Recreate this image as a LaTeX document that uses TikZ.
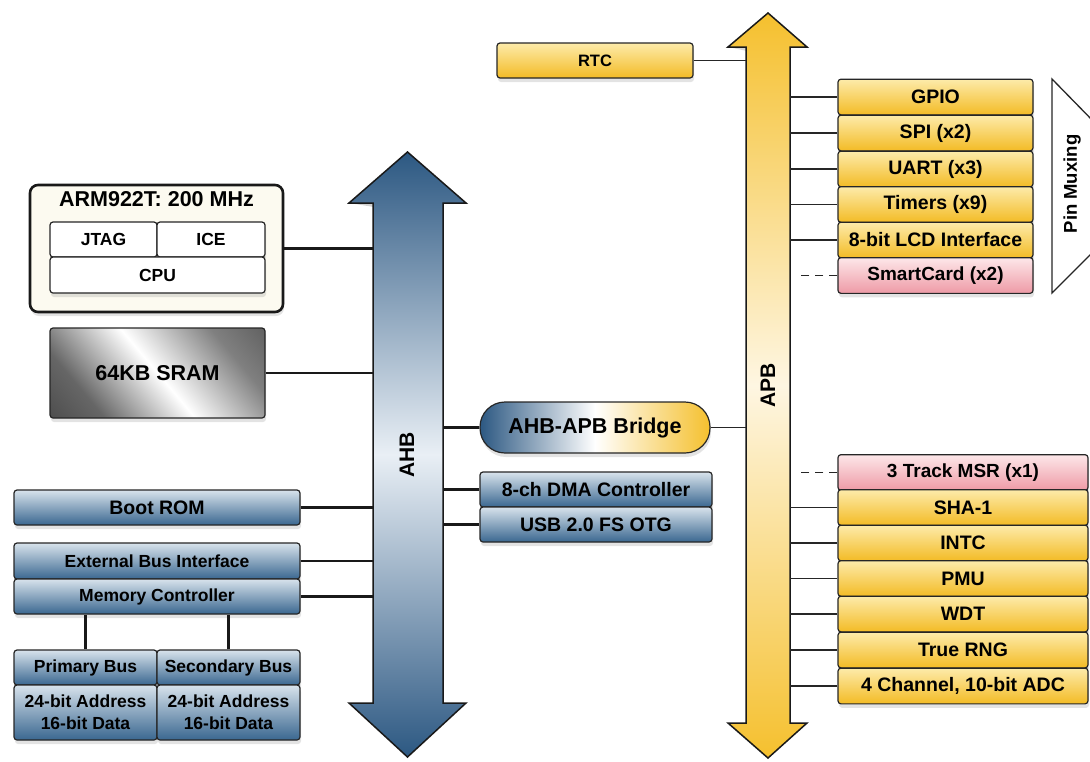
\documentclass[tikz,border=0pt]{standalone}
\usepackage{fontspec}
\setmainfont{Liberation Sans}
\usetikzlibrary{shadows}
\definecolor{bTop}{HTML}{D8E3EC}
\definecolor{bBot}{HTML}{3A6790}
\definecolor{yTop}{HTML}{FDEBAA}
\definecolor{yBot}{HTML}{F3BB25}
\definecolor{pTop}{HTML}{FDE7E9}
\definecolor{pBot}{HTML}{EE9AA6}
\definecolor{ahbDark}{HTML}{2C5882}
\definecolor{ahbLight}{HTML}{E9EFF5}
\definecolor{apbY}{HTML}{F5C02E}
\definecolor{apbLight}{HTML}{FEF6E2}
\definecolor{cream}{HTML}{FCFAF0}
\pgfdeclarehorizontalshading{sramsh}{100bp}{color(0bp)=(black!80); color(28bp)=(black!60); color(50bp)=(white); color(72bp)=(black!50); color(100bp)=(black!75)}
\newcommand\fsz[2]{\fontsize{#1}{#2}\selectfont\bfseries}
\tikzset{
  shad/.style={drop shadow={shadow xshift=1pt, shadow yshift=-4pt, opacity=0.22}},
  box/.style={draw=black!85, line width=1.2pt, rounded corners=3pt, inner sep=0pt, align=center, shad},
  bluebox/.style={box, top color=bTop, bottom color=bBot},
  lbl/.style={bluebox, minimum width=286pt, font=\fsz{17.5}{20}},
  ylw/.style={box, top color=yTop, bottom color=yBot, minimum width=195pt, minimum height=35.7pt, font=\fsz{19.5}{22}},
  pnk/.style={box, top color=pTop, bottom color=pBot, minimum width=195pt, minimum height=35.7pt, font=\fsz{19}{22}},
  wide/.style={minimum width=250pt},
  wbox/.style={box, fill=white, font=\fsz{17.5}{20}},
  wire/.style={line width=2.2pt, draw=black!90},
  twire/.style={line width=1.3pt, draw=black!85},
  dwire/.style={line width=1.3pt, draw=black!85, dash pattern=on 8pt off 6pt},
  busline/.style={draw=black!90, line width=1.5pt, line join=miter},
}
\begin{document}
\begin{tikzpicture}[x=1pt,y=-1pt]
\useasboundingbox (0,0) rectangle (1090,761);

% ---------- AHB bus ----------
\fill[black, opacity=0.18] ([xshift=1pt,yshift=-4pt]373,203) -- (349,203) -- (407.5,152) -- (466,203) -- (443,203) -- (443,703) -- (466,703) -- (407.5,757) -- (349,703) -- (373,703) -- cycle;
\shade[busline, top color=ahbDark, bottom color=ahbDark, middle color=ahbLight]
  (373,203) -- (349,203) -- (407.5,152) -- (466,203) -- (443,203) -- (443,703) -- (466,703) -- (407.5,757) -- (349,703) -- (373,703) -- cycle;
\node[inner sep=0pt, minimum width=70pt, minimum height=500pt] (ahb) at (408,453) {};
\node[rotate=90, font=\fsz{21}{24}] (ahbt) at (407,455) {AHB};

% ---------- APB bus ----------
\fill[black, opacity=0.15] ([xshift=1pt,yshift=-4pt]746,47) -- (728,47) -- (768,13) -- (807,47) -- (790,47) -- (790,723) -- (807,723) -- (768,758) -- (728,723) -- (746,723) -- cycle;
\shade[busline, top color=apbY, bottom color=apbY, middle color=apbLight]
  (746,47) -- (728,47) -- (768,13) -- (807,47) -- (790,47) -- (790,723) -- (807,723) -- (768,758) -- (728,723) -- (746,723) -- cycle;
\node[inner sep=0pt, minimum width=44pt, minimum height=676pt] (apb) at (768,385) {};
\node[rotate=90, font=\fsz{21}{24}] (apbt) at (768,385) {APB};

% ---------- ARM block ----------
\node[draw=black!90, line width=2.6pt, rounded corners=8pt, fill=cream, minimum width=253pt, minimum height=127pt, shad] (arm) at (156.5,248.5) {};
\node[font=\fsz{21.5}{24}] (armt) at (156.5,199) {ARM922T: 200 MHz};
\node[wbox, minimum width=107pt, minimum height=35pt] (jtag) at (103.5,239.5) {JTAG};
\node[wbox, minimum width=108pt, minimum height=35pt] (ice) at (211,239.5) {ICE};
\node[wbox, minimum width=215pt, minimum height=36pt] (cpu) at (157.5,275) {CPU};

% ---------- SRAM ----------
\node[box, shading=sramsh, shading angle=40, minimum width=215pt, minimum height=90pt, font=\fsz{21.5}{24}] (sram) at (157.5,373) {64KB SRAM};

% ---------- left memory ----------
\node[lbl, minimum height=35pt, font=\fsz{19.5}{22}] (boot) at (157,507.5) {Boot ROM};
\node[lbl, minimum height=36pt] (ebi) at (157,561) {External Bus Interface};
\node[lbl, minimum height=35pt] (mc) at (157,596.5) {Memory Controller};
\node[bluebox, minimum width=143pt, minimum height=35pt, font=\fsz{17.5}{20}] (pb) at (85.5,667.5) {Primary Bus};
\node[bluebox, minimum width=143pt, minimum height=35pt, font=\fsz{17.5}{20}] (sb) at (228.5,667.5) {Secondary Bus};
\node[bluebox, minimum width=143pt, minimum height=55pt, font=\fsz{17.5}{22}] (pa) at (85.5,712.5) {24-bit Address\\16-bit Data};
\node[bluebox, minimum width=143pt, minimum height=55pt, font=\fsz{17.5}{22}] (sa) at (228.5,712.5) {24-bit Address\\16-bit Data};

\draw[wire] (pb.north) -- (pb.north |- mc.south);
\draw[wire] (sb.north) -- (sb.north |- mc.south);

\draw[wire] (arm.east) -- (arm.east -| ahb.west);
\draw[wire] (sram.east) -- (sram.east -| ahb.west);
\draw[wire] (boot.east) -- (boot.east -| ahb.west);
\draw[wire] (ebi.east) -- (ebi.east -| ahb.west);
\draw[wire] (mc.east) -- (mc.east -| ahb.west);

% ---------- middle ----------
\node[box, rounded corners=25pt, left color=ahbDark, right color=apbY, middle color=white, minimum width=230pt, minimum height=51pt, font=\fsz{21.5}{24}] (bridge) at (595,427.5) {AHB-APB Bridge};
\node[bluebox, minimum width=232pt, minimum height=35pt, font=\fsz{19.5}{22}] (dma) at (596,489.5) {8-ch DMA Controller};
\node[bluebox, minimum width=232pt, minimum height=35pt, font=\fsz{19.5}{22}] (usb) at (596,524.5) {USB 2.0 FS OTG};

\draw[wire] (bridge.west) -- (bridge.west -| ahb.east);
\draw[twire] (bridge.east) -- (bridge.east -| apb.west);
\draw[wire] (dma.west) -- (dma.west -| ahb.east);
\draw[wire] (usb.west) -- (usb.west -| ahb.east);

% ---------- RTC ----------
\node[box, top color=yTop, bottom color=yBot, minimum width=196pt, minimum height=35pt, font=\fsz{16.5}{20}] (rtc) at (595,60.5) {RTC};
\draw[twire] (rtc.east) -- (rtc.east -| apb.west);

% ---------- APB upper peripherals ----------
\node[ylw] (gpio) at (935.5,97) {GPIO};
\node[ylw] (spi) at (935.5,133) {SPI (x2)};
\node[ylw] (uart) at (935.5,169) {UART (x3)};
\node[ylw] (tim) at (935.5,204.5) {Timers (x9)};
\node[ylw] (lcd) at (935.5,240) {8-bit LCD Interface};
\node[pnk] (sc) at (935.5,275.5) {SmartCard (x2)};

\foreach \n in {gpio,spi,uart,tim,lcd} \draw[twire] (\n.west) -- (\n.west -| apb.east);
\draw[dwire] (sc.west) -- ([xshift=7pt]sc.west -| apb.east);

% ---------- Pin Muxing ----------
\fill[black, opacity=0.15] ([xshift=1pt,yshift=-4pt]1052,79) -- (1096,124) -- (1096,249) -- (1052,293) -- cycle;
\draw[fill=white, line width=1.3pt, draw=black!85] (1052,79) -- (1096,124) -- (1096,249) -- (1052,293) -- cycle;
\node[rotate=90, font=\fsz{18.5}{22}] (pm) at (1072,184) {Pin Muxing};

% ---------- APB lower peripherals ----------
\node[pnk, wide] (msr) at (963,472.5) {3 Track MSR (x1)};
\node[ylw, wide] (sha) at (963,507.5) {SHA-1};
\node[ylw, wide] (intc) at (963,543) {INTC};
\node[ylw, wide] (pmu) at (963,578.5) {PMU};
\node[ylw, wide] (wdt) at (963,614) {WDT};
\node[ylw, wide] (rng) at (963,650) {True RNG};
\node[ylw, wide] (adc) at (963,686) {4 Channel, 10-bit ADC};

\foreach \n in {sha,intc,pmu,wdt,rng,adc} \draw[twire] (\n.west) -- (\n.west -| apb.east);
\draw[dwire] (msr.west) -- ([xshift=7pt]msr.west -| apb.east);

\end{tikzpicture}
\end{document}
